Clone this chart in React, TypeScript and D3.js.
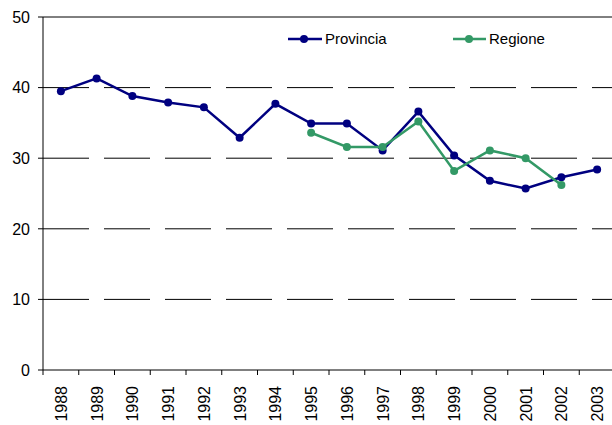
import React from 'react';
import * as d3 from 'd3';

const years = ['1988', '1989', '1990', '1991', '1992', '1993', '1994', '1995', '1996', '1997', '1998', '1999', '2000', '2001', '2002', '2003'];
const provincia = [39.5, 41.3, 38.8, 37.9, 37.2, 32.9, 37.7, 34.9, 34.9, 31.1, 36.6, 30.4, 26.8, 25.7, 27.3, 28.4];
const regioneYears = ['1995', '1996', '1997', '1998', '1999', '2000', '2001', '2002'];
const regione = [33.6, 31.6, 31.6, 35.2, 28.2, 31.1, 30.0, 26.2];
const yTicks = [0, 10, 20, 30, 40, 50];

const width = 612;
const height = 425;
const left = 43;
const right = 615;
const top = 17;
const bottom = 370;

const navy = '#000080';
const green = '#339966';
const font = '"Liberation Sans", Arial, sans-serif';

export default function App() {
  const x = d3.scaleBand().domain(years).range([left, right]);
  const y = d3.scaleLinear().domain([0, 50]).range([bottom, top]);
  const cx = (yr: string) => (x(yr) as number) + x.bandwidth() / 2;

  const line = d3.line<[string, number]>()
    .x(d => cx(d[0]))
    .y(d => y(d[1]));

  const provData = years.map((yr, i) => [yr, provincia[i]] as [string, number]);
  const regData = regioneYears.map((yr, i) => [yr, regione[i]] as [string, number]);

  return (
    <svg width={width} height={height} style={{ position: 'absolute', left: 0, top: 0, background: '#fff' }} fontFamily={font}>
      {/* gridlines */}
      {yTicks.filter(t => t > 0).map(t => (
        <line key={t} x1={left} x2={width} y1={y(t)} y2={y(t)}
          stroke="#000" strokeWidth={1}
          strokeDasharray={t === 50 ? undefined : '46,15'} />
      ))}

      {/* y axis */}
      <line x1={left} x2={left} y1={top} y2={bottom} stroke="#000" />
      {yTicks.map(t => (
        <g key={t}>
          <line x1={left - 5} x2={left} y1={y(t)} y2={y(t)} stroke="#000" />
          <text x={30} y={y(t)} dy="0.36em" textAnchor="end" fontSize={16} fill="#000">{t}</text>
        </g>
      ))}

      {/* x axis */}
      <line x1={left} x2={width} y1={bottom} y2={bottom} stroke="#000" />
      {years.map(yr => (
        <line key={'t' + yr} x1={(x(yr) as number)} x2={(x(yr) as number)} y1={bottom} y2={bottom + 5} stroke="#000" />
      ))}
      {years.map(yr => (
        <text key={'l' + yr}
          transform={`translate(${cx(yr) + 6},${bottom + 16}) rotate(-90)`}
          textAnchor="end" fontSize={16} fill="#000">{yr}</text>
      ))}

      {/* series */}
      <path d={line(provData) || ''} fill="none" stroke={navy} strokeWidth={2.5} />
      {provData.map(d => (
        <circle key={'p' + d[0]} cx={cx(d[0])} cy={y(d[1])} r={4} fill={navy} />
      ))}
      <path d={line(regData) || ''} fill="none" stroke={green} strokeWidth={2.5} />
      {regData.map(d => (
        <circle key={'r' + d[0]} cx={cx(d[0])} cy={y(d[1])} r={4} fill={green} />
      ))}

      {/* legend */}
      <g>
        <line x1={288} x2={322} y1={39} y2={39} stroke={navy} strokeWidth={2.5} />
        <circle cx={304} cy={39} r={4} fill={navy} />
        <text x={325} y={39} dy="0.36em" fontSize={15} fill="#000">Provincia</text>
        <line x1={453} x2={486} y1={39} y2={39} stroke={green} strokeWidth={2.5} />
        <circle cx={469} cy={39} r={4} fill={green} />
        <text x={489} y={39} dy="0.36em" fontSize={15} fill="#000">Regione</text>
      </g>
    </svg>
  );
}
